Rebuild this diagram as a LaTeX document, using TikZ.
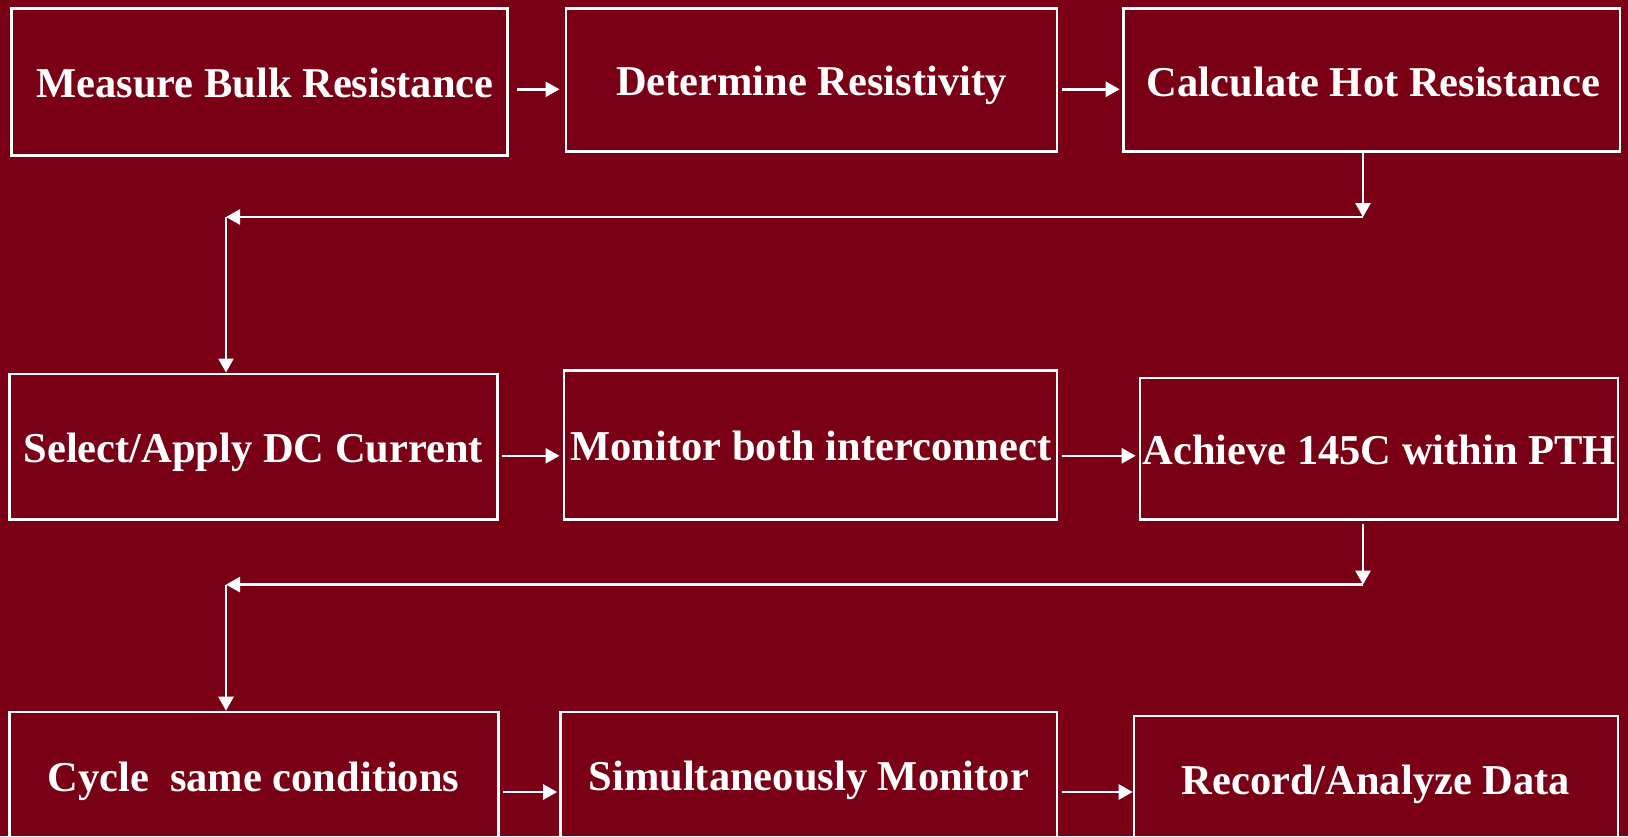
\documentclass[tikz,border=0pt]{standalone}
\usepackage{fontspec}
\setmainfont{Liberation Serif}
\usetikzlibrary{arrows.meta}
\definecolor{maroonbg}{HTML}{7A0016}
\begin{document}
\begin{tikzpicture}[x=0.5pt,y=-0.5pt,
  stepbox/.style={draw=white, line width=1.3pt, inner sep=0pt},
  steptext/.style={text=white, inner sep=0pt, anchor=base,
    font=\fontsize{21.25}{25}\selectfont\bfseries},
  arr/.style={draw=white, line width=1.3pt, -{Triangle[length=7pt,width=7.5pt]}}]
% background and frame
\fill[maroonbg] (0,0) rectangle (1628,836);
\clip (0,0) rectangle (1628,836);

% first row
\node[stepbox, minimum width=248pt, minimum height=73.7pt] (B1) at (259.5,82) {};
\node[stepbox, minimum width=245.5pt, minimum height=71.7pt] (B2) at (811.5,80) {};
\node[stepbox, minimum width=248.2pt, minimum height=71.7pt] (B3) at (1371.6,80) {};
\node[steptext] (L1) at (265,97.7) {Measure Bulk Resistance};
\node[steptext] (L2) at (811.4,95.7) {Determine Resistivity};
\node[steptext] (L3) at (1373.6,96) {Calculate Hot Resistance};

% second row
\node[stepbox, minimum width=244pt, minimum height=72.7pt] (B4) at (253.3,446.5) {};
\node[stepbox, minimum width=246.6pt, minimum height=74.25pt] (B5) at (810.4,445) {};
\node[stepbox, minimum width=238.9pt, minimum height=70.6pt] (B6) at (1378.9,448.6) {};
\node[steptext] (L4) at (253.3,462.7) {Select/Apply DC Current};
\node[steptext] (L5) at (811,460.7) {Monitor both interconnect};
\node[steptext] (L6) at (1379.3,464.3) {Achieve 145C within PTH};

% third row (boxes run past the lower edge)
\node[stepbox, minimum width=244.5pt, minimum height=68pt] (B7) at (253.9,780) {};
\node[stepbox, minimum width=248.2pt, minimum height=68pt] (B8) at (808.9,780) {};
\node[stepbox, minimum width=242pt, minimum height=66pt] (B9) at (1376,782) {};
\node[steptext] (L7) at (253.4,791) {Cycle\ \ same conditions};
\node[steptext] (L8) at (808.8,790.7) {Simultaneously Monitor};
\node[steptext] (L9) at (1375.8,794) {Record/Analyze Data};

% heights of the horizontal arrows
\coordinate (r1) at (0,89.3);
\coordinate (r2) at (0,455.8);
\coordinate (r3) at (0,792);

% arrows within rows
\draw[arr, shorten <=4.2pt, shorten >=2.6pt] (B1.east |- r1) -- (B2.west |- r1);
\draw[arr, shorten <=2pt, shorten >=1.2pt] (B2.east |- r1) -- (B3.west |- r1);
\draw[arr, shorten <=1.6pt, shorten >=1.5pt] (B4.east |- r2) -- (B5.west |- r2);
\draw[arr, shorten <=2pt, shorten >=1.5pt] (B5.east |- r2) -- (B6.west |- r2);
\draw[arr, shorten <=1.6pt, shorten >=1.1pt] (B7.east |- r3) -- (B8.west |- r3);
\draw[arr, shorten <=2pt, shorten >=0pt] (B8.east |- r3) -- (B9.west |- r3);

% return path from row one to row two
\coordinate (t1) at (1363,217);
\coordinate (c1) at (226,217);
\draw[arr] (B3.south -| t1) -- (t1);
\draw[arr] (t1) -- (c1);
\draw[arr] (c1) -- (B4.north -| c1);

% return path from row two to row three
\coordinate (t2) at (1363,584.6);
\coordinate (c2) at (226,584.6);
\draw[arr, shorten <=1.5pt] (B6.south -| t2) -- (t2);
\draw[arr] (t2) -- (c2);
\draw[arr] (c2) -- (B7.north -| c2);
\end{tikzpicture}
\end{document}
